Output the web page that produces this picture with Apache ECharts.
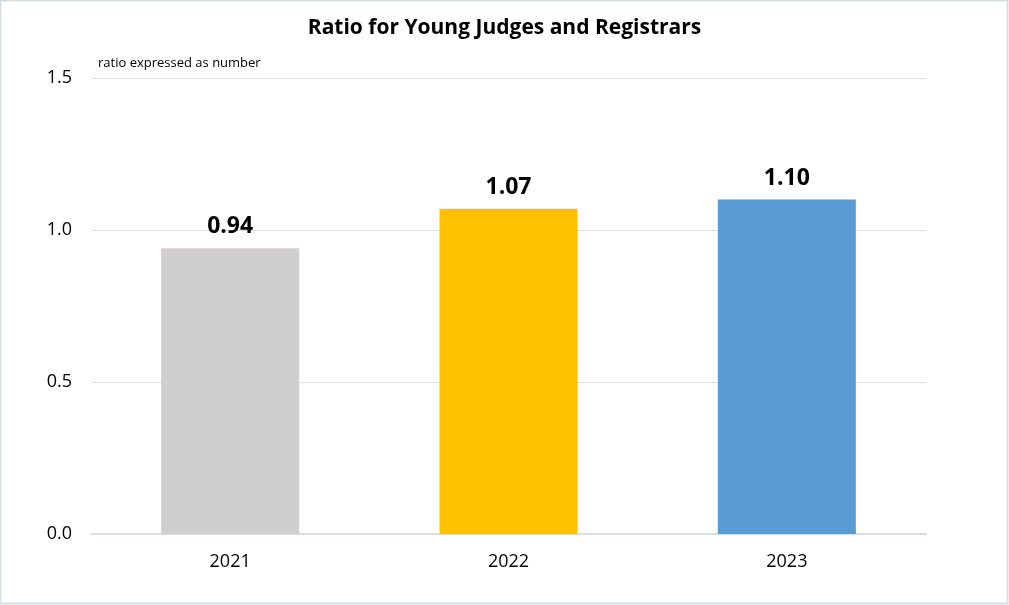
<!DOCTYPE html>
<html><head><meta charset="utf-8">
<script src="https://cdn.jsdelivr.net/npm/echarts@6/dist/echarts.min.js"></script>
<style>html,body{margin:0;padding:0;background:#fff}#c{width:1009px;height:605px}</style>
</head><body><div id="c"></div>
<script>
const categories = ['2021', '2022', '2023'];
const values = [0.94, 1.07, 1.10];
const barColors = ['#D0CECE', '#FFC000', '#5B9BD5'];
const yTicks = [0, 0.5, 1.0, 1.5];

const chart = echarts.init(document.getElementById('c'));
const font = 'Open Sans';
chart.setOption({
  animation: false,
  backgroundColor: '#fff',
  graphic: [{
    type: 'rect', shape: {x: 0.5, y: 0.5, width: 1007, height: 603},
    style: {fill: 'none', stroke: '#D9DEE5', lineWidth: 2}, silent: true
  }],
  title: [{
    text: 'Ratio for Young Judges and Registrars',
    left: 'center', top: 13,
    textStyle: {fontFamily: font, fontWeight: 'bold', fontSize: 21, color: '#000'}
  }, {
    text: 'ratio expressed as number',
    left: 93, top: 52,
    textStyle: {fontFamily: font, fontWeight: 'normal', fontSize: 13, color: '#000'}
  }],
  grid: {left: 91, right: 83, top: 78, bottom: 71},
  xAxis: {
    type: 'category', data: categories,
    axisLine: {lineStyle: {color: '#D9DEE5', width: 2}},
    axisTick: {show: false},
    axisLabel: {fontFamily: font, fontSize: 18, color: '#000', margin: 19}
  },
  yAxis: {
    type: 'value', min: 0, max: 1.5, interval: 0.5,
    axisLine: {show: false}, axisTick: {show: false},
    splitLine: {lineStyle: {color: '#E0E0E0', width: 1}},
    axisLabel: {fontFamily: font, fontSize: 18, color: '#000', margin: 19,
      formatter: v => yTicks.includes(v) ? v.toFixed(1) : ''}
  },
  series: [{
    type: 'bar', barWidth: '49.6%',
    data: values.map((v, i) => ({value: v, itemStyle: {color: barColors[i]}})),
    label: {show: true, position: 'top', distance: 10,
      fontFamily: font, fontWeight: 'bold', fontSize: 23, color: '#000',
      formatter: p => p.value.toFixed(2)}
  }]
});
</script></body></html>
